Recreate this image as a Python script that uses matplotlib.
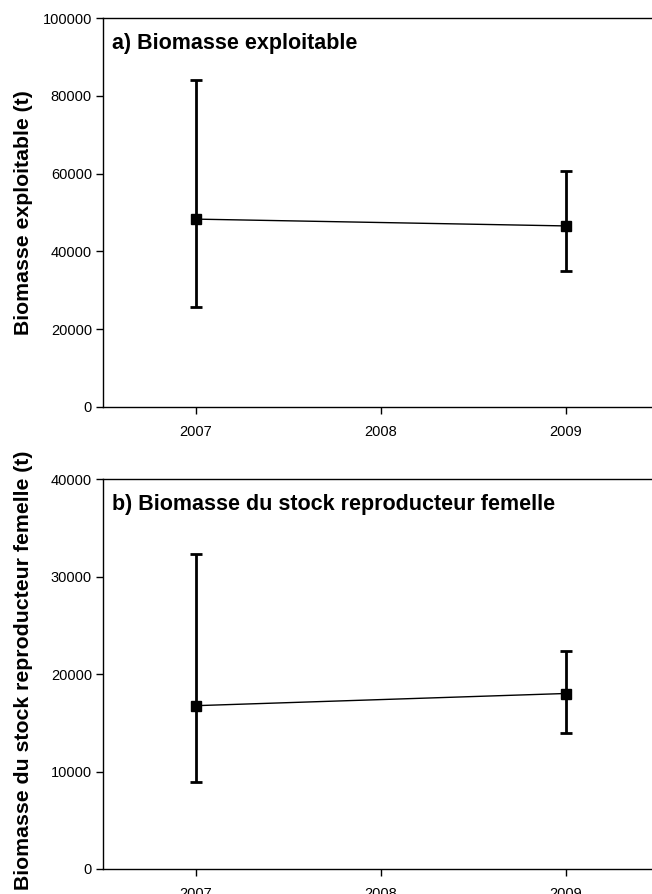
import matplotlib
matplotlib.use("Agg")
import matplotlib.pyplot as plt

plt.rcParams['font.family'] = ['Liberation Sans', 'DejaVu Sans']

years = [2007, 2009]
xticks = [2007, 2008, 2009]

exp_val = [48300, 46550]
exp_low = [25700, 34950]
exp_high = [84150, 60600]

ssb_val = [16750, 18000]
ssb_low = [8950, 13950]
ssb_high = [32330, 22350]

panels = [
    dict(val=exp_val, low=exp_low, high=exp_high, ylim=(0, 100000),
         yticks=[0, 20000, 40000, 60000, 80000, 100000],
         title="a) Biomasse exploitable", ylabel="Biomasse exploitable (t)",
         ly=0.5),
    dict(val=ssb_val, low=ssb_low, high=ssb_high, ylim=(0, 40000),
         yticks=[0, 10000, 20000, 30000, 40000],
         title="b) Biomasse du stock reproducteur femelle",
         ylabel="Biomasse du stock reproducteur femelle (t)", ly=0.51),
]

W, H = 652, 894
fig = plt.figure(figsize=(W / 100, H / 100), dpi=100)
rects = [(103, 18, 652, 407), (103, 479, 652, 869)]

for (l, t, r, b), p in zip(rects, panels):
    ax = fig.add_axes([l / W, 1 - b / H, (r - l) / W, (b - t) / H])
    yerr = [[v - lo for v, lo in zip(p['val'], p['low'])],
            [hi - v for v, hi in zip(p['val'], p['high'])]]
    ax.errorbar(years, p['val'], yerr=yerr, fmt='s-', color='black',
                markersize=7, linewidth=1.0, elinewidth=2.0, capsize=4,
                capthick=2.0, markerfacecolor='black')
    ax.set_xlim(2006.5, 2006.5 + (r - l) / 185.0)
    ax.set_ylim(*p['ylim'])
    ax.set_xticks(xticks)
    ax.set_xticklabels([str(x) for x in xticks])
    ax.set_yticks(p['yticks'])
    ax.set_yticklabels([str(v) for v in p['yticks']])
    ax.tick_params(direction='out', length=5, width=1, labelsize=10.5, pad=3)
    ax.tick_params(axis='x', pad=8)
    ax.spines['right'].set_visible(False)
    for s in ['left', 'bottom', 'top']:
        ax.spines[s].set_linewidth(1.0)
    ax.text(0.017, 0.935, p['title'], transform=ax.transAxes, fontsize=15.5,
            fontweight='bold', ha='left', va='center')
    ax.set_ylabel(p['ylabel'], fontsize=15.3, fontweight='bold')
    ax.yaxis.set_label_coords(-70 / (r - l), p['ly'])

fig.savefig("out.png", dpi=100)
